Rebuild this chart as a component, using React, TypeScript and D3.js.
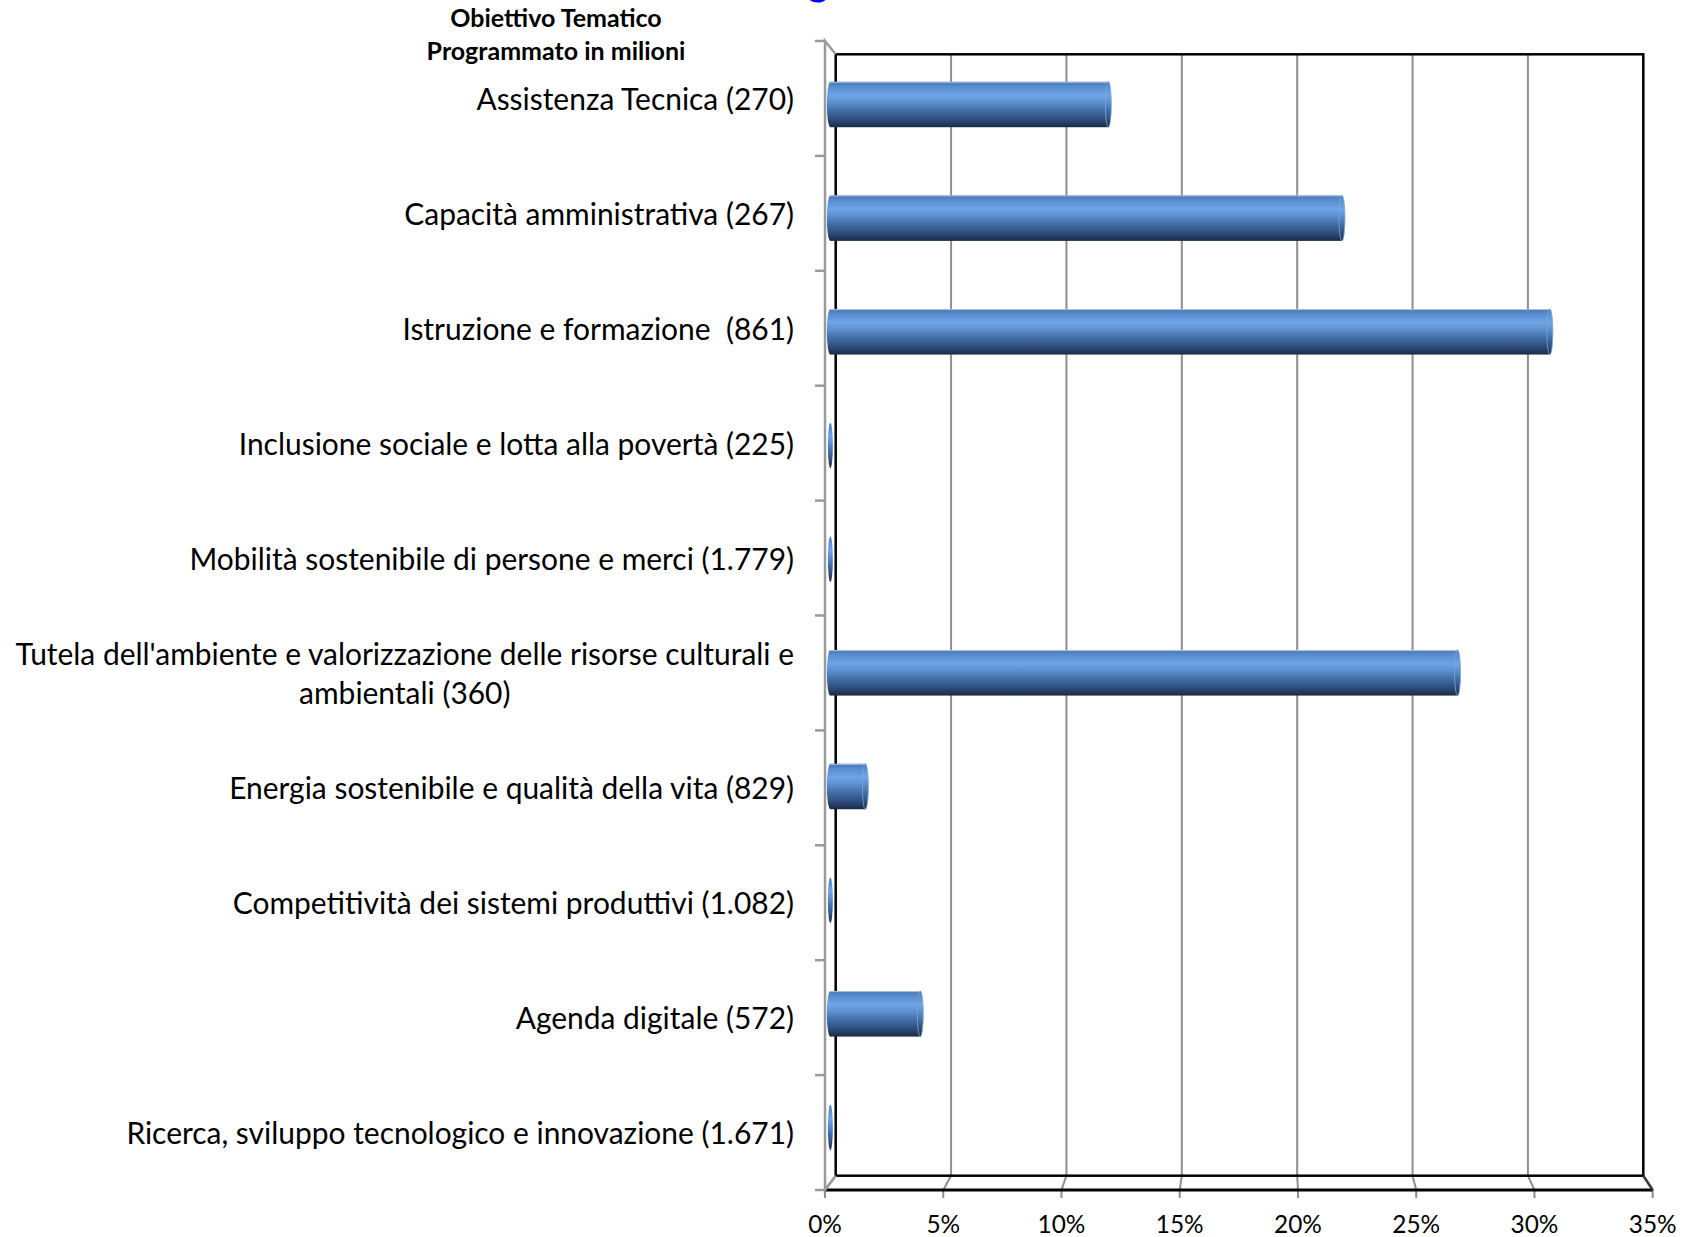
import { useEffect, useRef } from "react";
import * as d3 from "d3";

const CATEGORIES = [
  "Assistenza Tecnica (270)",
  "Capacità amministrativa (267)",
  "Istruzione e formazione  (861)",
  "Inclusione sociale e lotta alla povertà (225)",
  "Mobilità sostenibile di persone e merci (1.779)",
  "Tutela dell'ambiente e valorizzazione delle risorse culturali e\nambientali (360)",
  "Energia sostenibile e qualità della vita (829)",
  "Competitività dei sistemi produttivi (1.082)",
  "Agenda digitale (572)",
  "Ricerca, sviluppo tecnologico e innovazione (1.671)",
];

// percentuale sul programmato
const VALUES = [11.9, 21.9, 30.8, 0, 0, 26.85, 1.5, 0, 3.85, 0];

const X_TICKS = [0, 5, 10, 15, 20, 25, 30, 35];
const TITLE_LINES = ["Obiettivo Tematico", "Programmato in milioni"];

const FONT = "Lato, 'Open Sans', sans-serif";

// svg collapses runs of spaces, keep them with a no-break space
const keepSpaces = (s: string) => s.replace(/ {2}/g, " \u00a0");

export default function App() {
  const svgRef = useRef<SVGSVGElement>(null);

  useEffect(() => {
    const width = 1683;
    const height = 1237;

    // front and back planes of the 3D box
    const front = { x0: 825, x1: 1652.7, y0: 41, y1: 1190 };
    const back = { x0: 835.7, x1: 1643.3, y0: 54.3, y1: 1175.7 };
    const mid = {
      x0: (front.x0 + back.x0) / 2,
      x1: (front.x1 + back.x1) / 2,
      y0: (front.y0 + back.y0) / 2,
      y1: (front.y1 + back.y1) / 2 + 1.5,
    };

    const svg = d3.select(svgRef.current);
    svg.selectAll("*").remove();
    svg.attr("width", width).attr("height", height);

    const xMax = X_TICKS[X_TICKS.length - 1];
    const xFront = d3.scaleLinear().domain([0, xMax]).range([front.x0, front.x1]);
    const xBack = d3.scaleLinear().domain([0, xMax]).range([back.x0, back.x1]);
    const xMid = d3.scaleLinear().domain([0, xMax]).range([mid.x0, mid.x1]);

    const yBand = d3
      .scaleBand()
      .domain(CATEGORIES)
      .range([mid.y0, mid.y1])
      .paddingInner(0.6)
      .paddingOuter(0.3);

    // labels sit on the front plane
    const yFront = d3
      .scaleBand()
      .domain(CATEGORIES)
      .range([front.y0, front.y1]);

    const yTick = d3
      .scaleLinear()
      .domain([0, CATEGORIES.length])
      .range([front.y0, front.y1]);

    // gradient of the cylinders
    const defs = svg.append("defs");
    const grad = defs
      .append("linearGradient")
      .attr("id", "cyl")
      .attr("x1", 0)
      .attr("y1", 0)
      .attr("x2", 0)
      .attr("y2", 1);
    [
      [0, "#4676b6"],
      [0.12, "#5a8fd2"],
      [0.3, "#6ea5e6"],
      [0.45, "#5d90cf"],
      [0.62, "#4470a9"],
      [0.82, "#2f4f7f"],
      [1, "#1b2a44"],
    ].forEach(([o, c]) => grad.append("stop").attr("offset", o).attr("stop-color", c));

    // back wall
    svg
      .append("rect")
      .attr("x", back.x0)
      .attr("y", back.y0)
      .attr("width", back.x1 - back.x0)
      .attr("height", back.y1 - back.y0)
      .attr("fill", "#fff");

    // gridlines on wall
    svg
      .append("g")
      .selectAll("line")
      .data(X_TICKS.slice(1, -1))
      .join("line")
      .attr("x1", (d) => xBack(d))
      .attr("x2", (d) => xBack(d))
      .attr("y1", back.y0)
      .attr("y2", back.y1)
      .attr("stroke", "#8f8f8f")
      .attr("stroke-width", 2);

    // floor gridlines and tick marks
    svg
      .append("g")
      .selectAll("path")
      .data(X_TICKS)
      .join("path")
      .attr(
        "d",
        (d) =>
          `M${xBack(d)},${back.y1} L${xFront(d)},${front.y1} L${xFront(d)},${front.y1 + 8}`,
      )
      .attr("fill", "none")
      .attr("stroke", "#8f8f8f")
      .attr("stroke-width", 2);

    // back wall border
    svg
      .append("rect")
      .attr("x", back.x0)
      .attr("y", back.y0)
      .attr("width", back.x1 - back.x0)
      .attr("height", back.y1 - back.y0)
      .attr("fill", "none")
      .attr("stroke", "#000")
      .attr("stroke-width", 2.5);

    // floor front edge
    svg
      .append("line")
      .attr("x1", front.x0)
      .attr("x2", front.x1)
      .attr("y1", front.y1)
      .attr("y2", front.y1)
      .attr("stroke", "#000")
      .attr("stroke-width", 3);
    svg
      .append("line")
      .attr("x1", back.x1)
      .attr("y1", back.y1)
      .attr("x2", front.x1)
      .attr("y2", front.y1)
      .attr("stroke", "#3a3a3a")
      .attr("stroke-width", 2.5);

    // left wall (category axis)
    svg
      .append("path")
      .attr(
        "d",
        `M${back.x0},${back.y0} L${front.x0},${front.y0} L${front.x0},${front.y1} L${back.x0},${back.y1}`,
      )
      .attr("fill", "none")
      .attr("stroke", "#9a9a9a")
      .attr("stroke-width", 2.5);

    svg
      .append("g")
      .selectAll("line")
      .data(d3.range(CATEGORIES.length + 1))
      .join("line")
      .attr("x1", front.x0 - 10)
      .attr("x2", front.x0)
      .attr("y1", (d) => yTick(d))
      .attr("y2", (d) => yTick(d))
      .attr("stroke", "#9a9a9a")
      .attr("stroke-width", 2.5);

    // cylinders
    const bh = yBand.bandwidth();
    const bars = svg
      .append("g")
      .selectAll("g")
      .data(CATEGORIES.map((c, i) => ({ c, v: VALUES[i] })))
      .join("g");

    bars.each(function (d) {
      const g = d3.select(this);
      const y = yBand(d.c) ?? 0;
      const x0 = xMid(0);
      const x1 = xMid(d.v);
      if (d.v <= 0) {
        g.append("ellipse")
          .attr("cx", x0)
          .attr("cy", y + bh / 2)
          .attr("rx", 2.5)
          .attr("ry", bh / 2)
          .attr("fill", "url(#cyl)");
        return;
      }
      g.append("ellipse")
        .attr("cx", x0)
        .attr("cy", y + bh / 2)
        .attr("rx", 3.5)
        .attr("ry", bh / 2)
        .attr("fill", "url(#cyl)");
      g.append("rect")
        .attr("x", x0)
        .attr("y", y)
        .attr("width", x1 - x0)
        .attr("height", bh)
        .attr("fill", "url(#cyl)");
      g.append("line")
        .attr("x1", x0)
        .attr("x2", x1)
        .attr("y1", y + 0.5)
        .attr("y2", y + 0.5)
        .attr("stroke", "#b4c3d8")
        .attr("stroke-width", 1);
      g.append("ellipse")
        .attr("cx", x1)
        .attr("cy", y + bh / 2)
        .attr("rx", 3)
        .attr("ry", bh / 2)
        .attr("fill", "url(#cyl)")
        .attr("stroke", "#7fa6d6")
        .attr("stroke-width", 0.8);
    });

    // category labels, fitted to the width of the longest line
    const labelRight = 794;
    const longest = "Tutela dell'ambiente e valorizzazione delle risorse culturali e";
    const probe = svg
      .append("text")
      .attr("font-family", FONT)
      .attr("font-size", 100)
      .text(longest);
    const probeLen = (probe.node() as SVGTextElement).getComputedTextLength();
    probe.remove();
    const catSize = Math.min(31, (100 * 779) / probeLen);
    const tickSize = 24.4;

    const labels = svg
      .append("g")
      .attr("font-family", FONT)
      .attr("font-size", catSize)
      .attr("fill", "#000");

    CATEGORIES.forEach((c) => {
      const lines = c.split("\n").map(keepSpaces);
      const cy = (yFront(c) ?? 0) + yFront.bandwidth() / 2;
      const lh = 38.7;
      if (lines.length === 1) {
        labels
          .append("text")
          .attr("x", labelRight)
          .attr("y", cy + 11.5)
          .attr("text-anchor", "end")
          .text(lines[0]);
      } else {
        const t0 = labels
          .append("text")
          .attr("x", labelRight)
          .attr("y", cy + 11.5 - lh / 2)
          .attr("text-anchor", "end")
          .text(lines[0]);
        const w0 = (t0.node() as SVGTextElement).getComputedTextLength();
        labels
          .append("text")
          .attr("x", labelRight - w0 / 2)
          .attr("y", cy + 11.5 + lh / 2)
          .attr("text-anchor", "middle")
          .text(lines[1]);
      }
    });

    // value axis labels
    svg
      .append("g")
      .attr("font-family", FONT)
      .attr("font-size", tickSize)
      .attr("fill", "#000")
      .selectAll("text")
      .data(X_TICKS)
      .join("text")
      .attr("x", (d) => xFront(d))
      .attr("y", 1233)
      .attr("text-anchor", "middle")
      .text((d) => `${d}%`);

    // axis title
    svg
      .append("g")
      .attr("font-family", FONT)
      .attr("font-weight", "bold")
      .attr("font-size", 25)
      .attr("text-anchor", "middle")
      .selectAll("text")
      .data(TITLE_LINES)
      .join("text")
      .attr("x", 556)
      .attr("y", (d, i) => 27 + i * 33)
      .text((d) => d);

    // chart title, cut off by the top edge
    svg
      .append("text")
      .attr("x", 818)
      .attr("y", -5)
      .attr("text-anchor", "middle")
      .attr("font-family", FONT)
      .attr("font-weight", "bold")
      .attr("font-size", 40)
      .attr("fill", "#0000ff")
      .text("g");
  }, []);

  return (
    <svg
      ref={svgRef}
      style={{ position: "absolute", left: 0, top: 0, display: "block", background: "#fff" }}
    />
  );
}
